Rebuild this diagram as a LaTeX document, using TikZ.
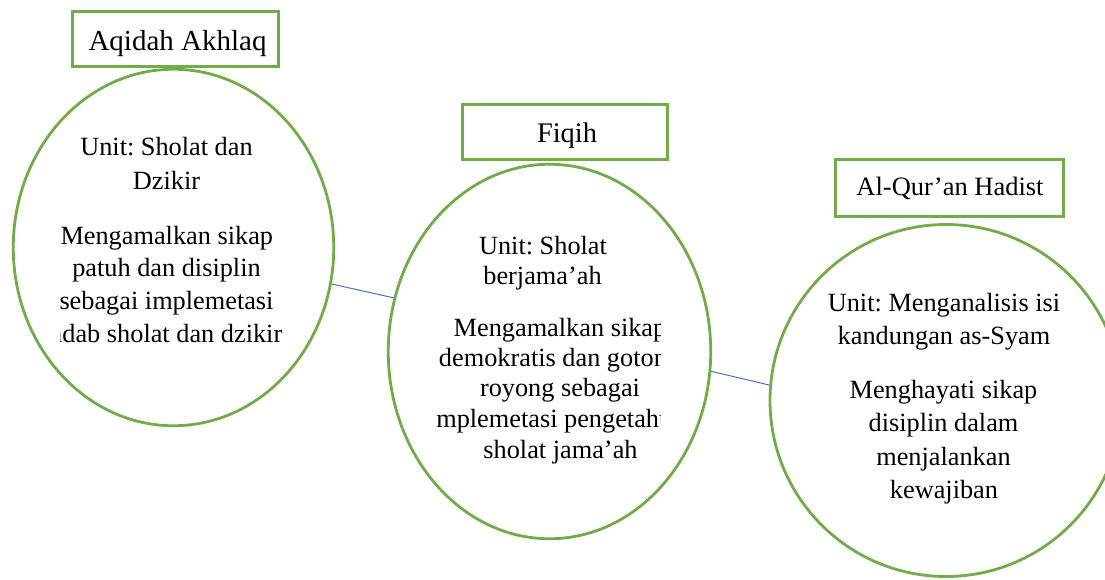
\documentclass[tikz,border=0pt]{standalone}
\usepackage{fontspec}
\setmainfont{Liberation Serif}
\usetikzlibrary{shapes.geometric}
\definecolor{frgreen}{HTML}{70AD47}
\definecolor{lnblue}{HTML}{4472C4}
\frenchspacing
\begin{document}
\begin{tikzpicture}[x=1pt,y=-1pt,
  titlebox/.style={draw=frgreen, line width=2.8pt, rectangle, inner sep=0pt},
  bubble/.style={draw=frgreen, line width=2.8pt, ellipse, inner sep=0pt},
  body/.style={anchor=base, inner sep=0pt, font=\fontsize{26.3}{30}\selectfont},
  ttl/.style={anchor=base, inner sep=0pt},
  link/.style={draw=lnblue, line width=1pt}]
\useasboundingbox (0,0) rectangle (1105,579);
\fill[white] (0,0) rectangle (1105,579);
\clip (0,0) rectangle (1105,579);

% ellipses
\node[bubble, minimum width=320.5pt, minimum height=356.5pt] (e1) at (173.5,247.5) {};
\node[bubble, minimum width=322.5pt, minimum height=374.5pt] (e2) at (549.5,351.5) {};
\node[bubble, minimum width=352pt, minimum height=352pt] (e3) at (946,400.5) {};

% title boxes
\node[titlebox, minimum width=206.5pt, minimum height=55.5pt] (b1) at (175.5,39) {};
\node[titlebox, minimum width=205.5pt, minimum height=55.5pt] (b2) at (565,132) {};
\node[titlebox, minimum width=228.5pt, minimum height=57.5pt] (b3) at (949.5,188) {};

\node[ttl, font=\fontsize{29}{32}\selectfont] (t1) at (177.5,50) {Aqidah Akhlaq};
\node[ttl, font=\fontsize{28.4}{32}\selectfont] (t2) at (567,142) {Fiqih};
\node[ttl, font=\fontsize{26.5}{30}\selectfont] (t3) at (950,195) {Al-Qur’an Hadist};

% connectors
\draw[link] (e1.-13) -- (e2.161.2);
\draw[link] (e2.-7.7) -- (e3.175.5);

% text of ellipse 1
\begin{scope}
\clip (60,60) rectangle (340,430);
\node[body] (a1) at (166.5,155.7) {Unit: Sholat dan};
\node[body] (a2) at (166.5,189) {Dzikir};
\node[body] (a3) at (166.8,244) {Mengamalkan sikap};
\node[body] (a4) at (166.5,276.7) {patuh dan disiplin};
\node[body] (a5) at (166.5,309.5) {sebagai implemetasi};
\node[body] (a6) at (166.5,342.5) {adab sholat dan dzikir};
\end{scope}

% text of ellipse 2
\begin{scope}
\clip (436.5,160) rectangle (660.5,545);
\node[body] (f1) at (543,254.5) {Unit: Sholat};
\node[body] (f2) at (542.5,284.5) {berjama’ah};
\node[body] (f3) at (560,336) {Mengamalkan sikap};
\node[body] (f4) at (559.5,366) {demokratis dan gotong};
\node[body] (f5) at (560,396.5) {royong sebagai};
\node[body] (f6) at (563,427) {implemetasi pengetahuan};
\node[body] (f7) at (560.5,458.5) {sholat jama’ah};
\end{scope}

% text of ellipse 3
\node[body] (q1) at (944,311.5) {Unit: Menganalisis isi};
\node[body] (q2) at (944,344) {kandungan as-Syam};
\node[body] (q3) at (943.5,398) {Menghayati sikap};
\node[body] (q4) at (943.5,431) {disiplin dalam};
\node[body] (q5) at (943.5,465) {menjalankan};
\node[body] (q6) at (944,498.5) {kewajiban};
\end{tikzpicture}
\end{document}
